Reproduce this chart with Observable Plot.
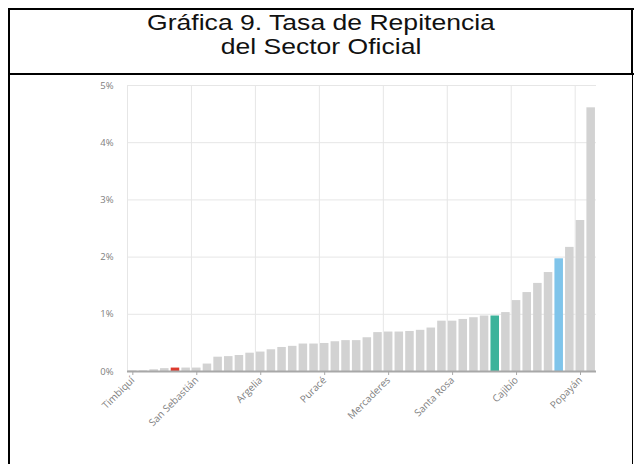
<!DOCTYPE html>
<html>
<head>
<meta charset="utf-8">
<script src="https://cdn.jsdelivr.net/npm/d3@7"></script>
<script src="https://cdn.jsdelivr.net/npm/@observablehq/plot@0.6"></script>
<style>
  html, body { margin: 0; padding: 0; background: #fff; }
  #page { position: relative; width: 634px; height: 464px; overflow: hidden; background: #fff; }
  .bl { position: absolute; background: #000; }
  #title { position: absolute; left: 10px; width: 622px; top: 11px; text-align: center;
           font-family: "Liberation Sans", Arial, sans-serif; font-size: 22.5px; line-height: 24px; color: #111;
           transform: scaleX(1.18); transform-origin: 50% 50%; }
  #chart { position: absolute; left: 10px; top: 75px; }
</style>
</head>
<body>
<div id="page">
  <div class="bl" style="left:8px; top:8px; width:626px; height:2px;"></div>
  <div class="bl" style="left:8px; top:8px; width:2px; height:456px;"></div>
  <div class="bl" style="left:8px; top:73px; width:626px; height:2px;"></div>
  <div class="bl" style="left:631px; top:8px; width:2px; height:456px;"></div>
  <div id="title">Gráfica 9. Tasa de Repitencia<br>del Sector Oficial</div>
  <div id="chart"></div>
</div>
<script>
// Categories (municipalities of Cauca, department and nation), sorted as in the chart
const categories = [
  "Timbiquí", "López de Micay", "Guapí", "Piamonte", "Morales", "Páez",
  "San Sebastián", "Inzá", "Toribío", "Jambaló", "Caldono", "Almaguer",
  "Argelia", "Balboa", "Bolívar", "Buenos Aires", "Sotará", "La Vega",
  "Puracé", "Silvia", "Totoró", "Sucre", "Florencia", "La Sierra",
  "Mercaderes", "Suárez", "Patía", "Rosas", "El Tambo", "Caloto",
  "Santa Rosa", "Corinto", "Miranda", "Padilla", "Cauca", "Guachené",
  "Cajibío", "Piendamó", "Timbío", "Villa Rica", "Colombia", "Santander de Quilichao",
  "Popayán", "Puerto Tejada"
];
// Repetition rate (fraction)
const values = [
  0.0001, 0.0001, 0.0003, 0.0005, 0.0006, 0.0006,
  0.0006, 0.0013, 0.0025, 0.0026, 0.0028, 0.0032,
  0.0034, 0.0038, 0.0042, 0.0044, 0.0048, 0.0048,
  0.0049, 0.0052, 0.0054, 0.0054, 0.0059, 0.0068,
  0.0069, 0.0069, 0.0070, 0.0072, 0.0076, 0.0088,
  0.0088, 0.0091, 0.0094, 0.0097, 0.0097, 0.0103,
  0.0124, 0.0138, 0.0154, 0.0173, 0.0197, 0.0217,
  0.0264, 0.0461
];
const labeledCategories = ["Timbiquí", "San Sebastián", "Argelia", "Puracé", "Mercaderes", "Santa Rosa", "Cajibío", "Popayán"];
const yTickValues = [0, 0.01, 0.02, 0.03, 0.04, 0.05];
const focusMunicipality = "Morales";
const departmentName = "Cauca";
const nationName = "Colombia";
const kinds = ["Municipio", "Municipio destacado", "Departamento", "Nación"];

const kindOf = (name) => name === focusMunicipality ? "Municipio destacado"
  : name === departmentName ? "Departamento"
  : name === nationName ? "Nación" : "Municipio";
const data = categories.map((c, i) => ({ name: c, value: values[i], kind: kindOf(c) }));

const W = 622, H = 389, ML = 117, MR = 36, MT = 10, MB = 93;
const step = (W - ML - MR) / categories.length;

const chart = Plot.plot({
  width: W, height: H,
  marginLeft: ML, marginRight: MR, marginTop: MT, marginBottom: MB,
  style: { fontFamily: "'Open Sans', sans-serif", fontSize: "9.5px", color: "#808080", background: "#fff" },
  x: { domain: categories, paddingInner: 0.2, paddingOuter: 0.1, align: 0.5, round: false, label: null },
  y: { domain: [0, 0.05], label: null },
  color: { domain: kinds, range: ["#d2d2d2", "#dc3a2e", "#3db39b", "#7fc4ea"] },
  marks: [
    Plot.ruleY(yTickValues, { stroke: "#e6e6e6", strokeWidth: 1 }),
    Plot.ruleX(labeledCategories, { x: d => d, y1: 0, y2: 0.05, dx: -step / 2, stroke: "#e6e6e6", strokeWidth: 1 }),
    Plot.barY(data, { x: "name", y: "value", fill: "kind" }),
    Plot.ruleY([0], { stroke: "#a8a8a8", strokeWidth: 2 }),
    Plot.axisY({ ticks: yTickValues, tickFormat: d3.format(".0%"), tickSize: 0, tickPadding: 14, label: null, fill: "#808080" }),
    Plot.axisX({ ticks: labeledCategories, tickRotate: -45, tickSize: 4, tickPadding: 3, stroke: "#a8a8a8", fill: "#808080", label: null, fontSize: 10 })
  ]
});
document.getElementById("chart").appendChild(chart);
</script>
</body>
</html>
